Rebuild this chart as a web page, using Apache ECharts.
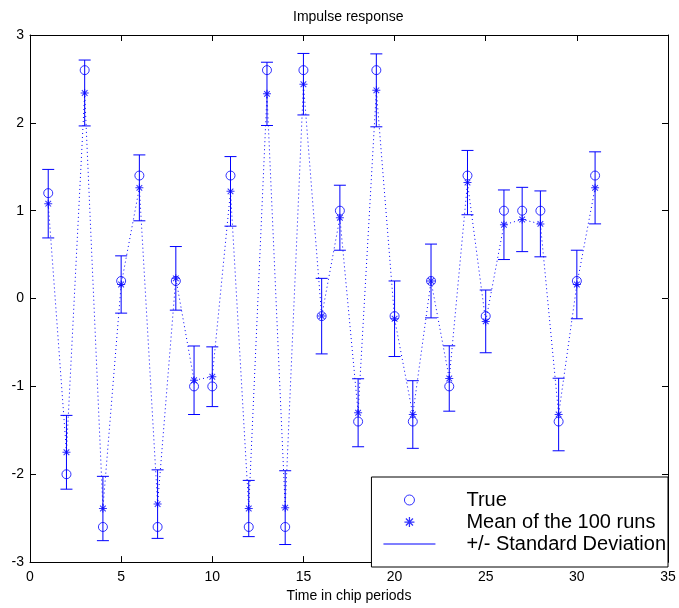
<!DOCTYPE html>
<html>
<head>
<meta charset="utf-8">
<script src="https://cdn.jsdelivr.net/npm/echarts@6/dist/echarts.min.js"></script>
<style>
html,body{margin:0;padding:0;background:#fff;}
#chart{width:679px;height:608px;}
</style>
</head>
<body>
<div id="chart"></div>
<script>
// ---- data ----
const times = [1,2,3,4,5,6,7,8,9,10,11,12,13,14,15,16,17,18,19,20,21,22,23,24,25,26,27,28,29,30,31];
const trueVals = [1.2,-2,2.6,-2.6,0.2,1.4,-2.6,0.2,-1,-1,1.4,-2.6,2.6,-2.6,2.6,-0.2,1,-1.4,2.6,-0.2,-1.4,0.2,-1,1.4,-0.2,1,1,1,-1.4,0.2,1.4];
const meanVals = [1.08,-1.75,2.34,-2.39,0.16,1.26,-2.34,0.23,-0.93,-0.89,1.22,-2.39,2.33,-2.38,2.44,-0.2,0.92,-1.3,2.37,-0.23,-1.32,0.2,-0.91,1.32,-0.26,0.84,0.9,0.85,-1.32,0.16,1.26];
const stdVals = [0.39,0.42,0.375,0.366,0.326,0.375,0.39,0.362,0.39,0.34,0.396,0.32,0.36,0.42,0.35,0.43,0.37,0.387,0.415,0.43,0.385,0.42,0.372,0.366,0.357,0.396,0.366,0.375,0.413,0.39,0.41];
const legendNames = ['True', 'Mean of the 100 runs', '+/- Standard Deviation'];
const titleText = 'Impulse response';
const xLabel = 'Time in chip periods';

// ---- styling helpers ----
const BLUE = '#0000ff';
function asteriskPath() {
  const L = 10, w = 1.25;
  let d = '';
  [0, 45, 90, 135].forEach(function (deg) {
    const a = deg * Math.PI / 180;
    const ux = Math.cos(a), uy = Math.sin(a), nx = -uy, ny = ux;
    const pts = [
      [L*ux + w*nx, L*uy + w*ny],
      [-L*ux + w*nx, -L*uy + w*ny],
      [-L*ux - w*nx, -L*uy - w*ny],
      [L*ux - w*nx, L*uy - w*ny]
    ];
    d += 'M' + pts.map(p => (p[0]+10).toFixed(3) + ',' + (p[1]+10).toFixed(3)).join('L') + 'Z';
  });
  return 'path://' + d;
}
const STAR = asteriskPath();

const truePts = times.map((t, i) => [t, trueVals[i]]);
const meanPts = times.map((t, i) => [t, meanVals[i]]);
const errPts = times.map((t, i) => [t, meanVals[i] - stdVals[i], meanVals[i] + stdVals[i]]);

const chart = echarts.init(document.getElementById('chart'), null, {renderer: 'canvas'});
const axisFont = {fontFamily: 'Liberation Sans, Arial, sans-serif', fontSize: 14, color: '#000'};
const circleStyle = {color: 'rgba(0,0,0,0)', borderColor: BLUE, borderWidth: 1};

chart.setOption({
  animation: false,
  backgroundColor: '#fff',
  title: {
    text: titleText,
    left: 293, top: 10, padding: 0,
    textStyle: {fontFamily: 'Liberation Sans, Arial, sans-serif', fontSize: 14, fontWeight: 'normal', color: '#000'}
  },
  grid: {left: 30, right: 11, top: 35, bottom: 41, containLabel: false},
  legend: {
    orient: 'vertical',
    right: 11, bottom: 41,
    padding: [12, 2, 12, 12],
    itemGap: 0,
    itemWidth: 52, itemHeight: 10,
    selectedMode: false,
    backgroundColor: '#fff',
    borderColor: '#000', borderWidth: 1,
    textStyle: {fontFamily: 'Liberation Sans, Arial, sans-serif', fontSize: 20, color: '#000', lineHeight: 22, padding: [0, 0, 0, 26]},
    data: [
      {name: legendNames[0], icon: 'circle', itemStyle: circleStyle},
      {name: legendNames[1], icon: STAR},
      {name: legendNames[2], icon: 'path://M0,0L52,0L52,1.2L0,1.2Z'}
    ]
  },
  xAxis: [{
    type: 'value', min: 0, max: 35, interval: 5, position: 'bottom',
    name: xLabel, nameLocation: 'middle', nameGap: 25,
    nameTextStyle: axisFont,
    axisLine: {show: true, onZero: false, lineStyle: {color: '#000', width: 1}},
    axisTick: {show: true, inside: true, length: 6, lineStyle: {color: '#000'}},
    axisLabel: Object.assign({margin: 8}, axisFont),
    splitLine: {show: false}
  }, {
    type: 'value', min: 0, max: 35, interval: 5, position: 'top',
    axisLine: {show: true, onZero: false, lineStyle: {color: '#000', width: 1}},
    axisTick: {show: true, inside: true, length: 6, lineStyle: {color: '#000'}},
    axisLabel: {show: false},
    splitLine: {show: false}
  }],
  yAxis: [{
    type: 'value', min: -3, max: 3, interval: 1, position: 'left',
    axisLine: {show: true, onZero: false, lineStyle: {color: '#000', width: 1}},
    axisTick: {show: true, inside: true, length: 6, lineStyle: {color: '#000'}},
    axisLabel: Object.assign({margin: 6}, axisFont),
    splitLine: {show: false}
  }, {
    type: 'value', min: -3, max: 3, interval: 1, position: 'right',
    axisLine: {show: true, onZero: false, lineStyle: {color: '#000', width: 1}},
    axisTick: {show: true, inside: true, length: 6, lineStyle: {color: '#000'}},
    axisLabel: {show: false},
    splitLine: {show: false}
  }],
  series: [
    {
      name: 'meanLine', type: 'line', data: meanPts, silent: true,
      symbol: 'none', z: 1,
      lineStyle: {color: BLUE, width: 1, type: [1, 3]}
    },
    {
      name: legendNames[2], type: 'custom', data: errPts, z: 2, silent: true,
      itemStyle: {color: BLUE},
      encode: {x: 0, y: [1, 2]},
      renderItem: function (params, api) {
        const x = api.value(0);
        const lo = api.coord([x, api.value(1)]);
        const hi = api.coord([x, api.value(2)]);
        const hw = 6;
        const st = {stroke: BLUE, lineWidth: 1};
        return {
          type: 'group',
          children: [
            {type: 'line', shape: {x1: lo[0], y1: lo[1], x2: hi[0], y2: hi[1]}, style: st},
            {type: 'line', shape: {x1: lo[0]-hw, y1: lo[1], x2: lo[0]+hw, y2: lo[1]}, style: st},
            {type: 'line', shape: {x1: hi[0]-hw, y1: hi[1], x2: hi[0]+hw, y2: hi[1]}, style: st}
          ]
        };
      }
    },
    {
      name: legendNames[0], type: 'scatter', data: truePts, z: 3, silent: true,
      symbol: 'circle', symbolSize: 9,
      itemStyle: circleStyle
    },
    {
      name: legendNames[1], type: 'scatter', data: meanPts, z: 4, silent: true,
      symbol: STAR, symbolSize: 8,
      itemStyle: {color: BLUE}
    }
  ]
});
</script>
</body>
</html>
